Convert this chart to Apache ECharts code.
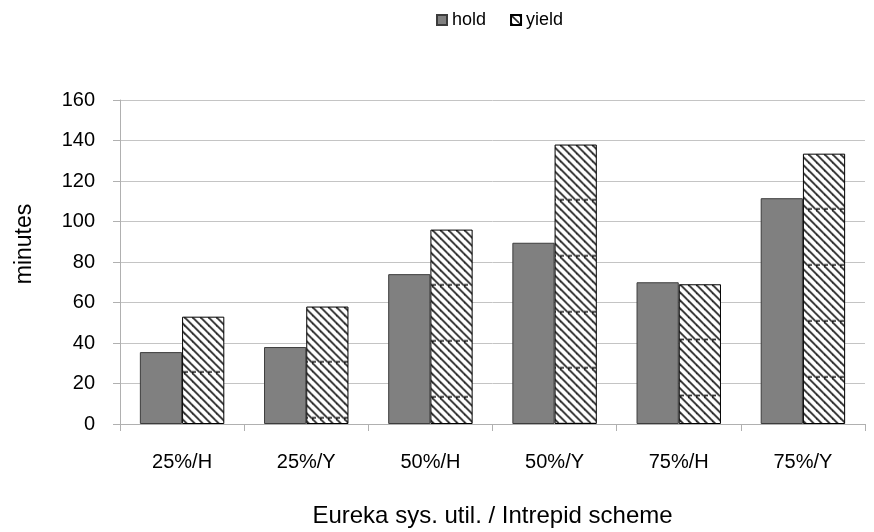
<!DOCTYPE html>
<html>
<head>
<meta charset="utf-8">
<script src="https://cdn.jsdelivr.net/npm/echarts@6/dist/echarts.min.js"></script>
<style>
  html, body { margin: 0; padding: 0; background: #fff; }
  #chart { width: 874px; height: 532px; }
</style>
</head>
<body>
<div id="chart"></div>
<script>
// categories and values
var categories = ['25%/H', '25%/Y', '50%/H', '50%/Y', '75%/H', '75%/Y'];
var holdVals = [35.5, 38, 74, 89.5, 70, 111.5];
var yieldVals = [53, 58, 96, 138, 69, 133.5];
var yTicks = { min: 0, max: 160, interval: 20 };

// diagonal hatch for the "yield" bars, with the dashed seam every 56px
function hatch(seam) {
  var h = seam ? 56 : 8;
  var c = document.createElement('canvas');
  c.width = 8; c.height = h;
  var ctx = c.getContext('2d');
  ctx.fillStyle = '#fff';
  ctx.fillRect(0, 0, 8, h);
  ctx.strokeStyle = '#222';
  ctx.lineWidth = 1.6;
  for (var dx = -h; dx <= 8; dx += 8) {
    ctx.beginPath();
    ctx.moveTo(dx, 0);
    ctx.lineTo(dx + h, h);
    ctx.stroke();
  }
  if (seam) {
    ctx.fillStyle = '#111';
    ctx.fillRect(0, h - 1.5, 4, 1.5);
  }
  return c;
}
var seamTile = hatch(true);

var font = 'Liberation Sans, Arial, sans-serif';
var chart = echarts.init(document.getElementById('chart'), null, { renderer: 'canvas' });
chart.setOption({
  animation: false,
  textStyle: { fontFamily: font },
  legend: {
    top: 6,
    left: 431,
    itemWidth: 10,
    itemHeight: 10,
    itemGap: 24,
    textStyle: { fontSize: 18, color: '#000', fontFamily: font },
    data: [
      { name: 'hold', icon: 'rect' },
      { name: 'yield', icon: 'rect' }
    ]
  },
  grid: { left: 120, right: 9, top: 100, bottom: 108, outerBoundsMode: 'none' },
  xAxis: {
    type: 'category',
    data: categories,
    name: 'Eureka sys. util. / Intrepid scheme',
    nameLocation: 'middle',
    nameGap: 80,
    nameTextStyle: { fontSize: 24, color: '#000', fontFamily: font },
    axisLine: { lineStyle: { color: '#b0b0b0' } },
    axisTick: { show: true, length: 7, lineStyle: { color: '#b0b0b0' } },
    axisLabel: { fontSize: 20, color: '#000', margin: 28, fontFamily: font }
  },
  yAxis: {
    type: 'value',
    min: yTicks.min,
    max: yTicks.max,
    interval: yTicks.interval,
    name: 'minutes',
    nameLocation: 'middle',
    nameGap: 84,
    nameTextStyle: { fontSize: 23, color: '#000', fontFamily: font, padding: [0, 0, 0, 36] },
    axisLine: { show: true, lineStyle: { color: '#b0b0b0' } },
    axisTick: { show: true, length: 7, lineStyle: { color: '#b0b0b0' } },
    axisLabel: { fontSize: 20, color: '#000', margin: 25, fontFamily: font },
    splitLine: { lineStyle: { color: '#c4c4c4' } }
  },
  series: [
    {
      name: 'hold',
      type: 'bar',
      data: holdVals,
      barGap: 0,
      barCategoryGap: '32%',
      itemStyle: { color: '#808080', borderColor: '#3c3c3c', borderWidth: 1 }
    },
    {
      name: 'yield',
      type: 'bar',
      data: yieldVals,
      itemStyle: { color: { image: hatch(false), repeat: 'repeat' }, borderColor: '#000', borderWidth: 1 }
    }
  ]
});

// anchor each yield bar's hatch tile at its own top, like the original
var yieldItems = yieldVals.map(function (v, i) {
  var top = chart.convertToPixel({ xAxisIndex: 0, yAxisIndex: 0 }, [i, v])[1];
  return { value: v, itemStyle: { color: { image: seamTile, repeat: 'repeat', x: 0, y: top } } };
});
chart.setOption({ series: [{}, { data: yieldItems }] });
</script>
</body>
</html>
